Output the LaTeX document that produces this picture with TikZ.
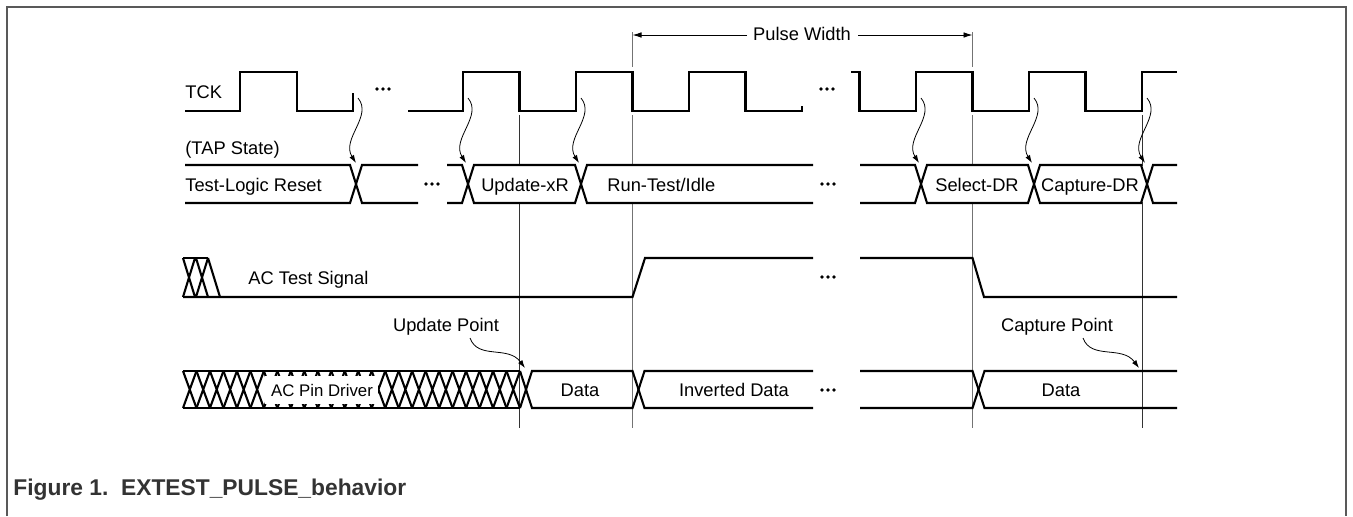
\documentclass[tikz,border=0pt]{standalone}
\usepackage{fontspec}
\setmainfont{Liberation Sans}
\usetikzlibrary{arrows.meta}
\begin{document}
\begin{tikzpicture}[x=0.5pt,y=-0.5pt,
  sig/.style={line width=1.05pt, line join=miter, line cap=butt},
  vlineA/.style={line width=0.45pt, black!80},
  vlineB/.style={line width=0.45pt, black!55},
  curv/.style={line width=0.4pt, -{Latex[length=4pt,width=2.6pt]}},
  pwarrow/.style={line width=0.45pt, -{Latex[length=4.5pt,width=2.8pt]}},
  lbl/.style={inner sep=0pt, font=\fontsize{9.15}{11}\selectfont},
  small/.style={inner sep=0pt, font=\fontsize{8.4}{10}\selectfont},
  ell/.pic={\fill (-6,0) circle (0.95pt) (0,0) circle (0.95pt) (6,0) circle (0.95pt);}]
\useasboundingbox (0,0) rectangle (1353,516);
% frame
\draw[line width=1.3pt, black!65] (7,516) -- (7,7) -- (1346,7) -- (1346,516);
% caption
\node[anchor=base west, inner sep=0pt, text=black!80, font=\fontsize{11.4}{13}\selectfont\bfseries] (cap) at (13,495) {Figure 1.\ \ EXTEST\_PULSE\_behavior};

% vertical marker lines
\draw[vlineA] (519.5,115) -- (519.5,428);
\draw[vlineB] (632.5,32) -- (632.5,67) (632.5,115) -- (632.5,428);
\draw[vlineB] (972.5,32) -- (972.5,67) (972.5,115) -- (972.5,428);
\draw[vlineA] (1142,115) -- (1142,428);
% hide markers inside the state bus
\fill[white] (185,166) rectangle (1177,202);

% pulse width
\node[lbl, anchor=base] (pw) at (802,40) {Pulse Width};
\coordinate (pwa) at (747,35);
\coordinate (pwb) at (858,35);
\coordinate (pwl) at (632.5,35);
\coordinate (pwr) at (972.5,35);
\draw[pwarrow] (pwa) -- (pwl);
\draw[pwarrow] (pwb) -- (pwr);

% TCK
\node[lbl, anchor=base west] (tck) at (185,98) {TCK};
\draw[sig] (185,111) -| (240,72) -| (297,111) -| (353,93);
\draw[sig] (408,111) -| (463,72) -| (519.5,111) -| (576,72) -| (632.5,111) -| (689,72) -| (745.5,111) -| (802,106);
\draw[sig] (851,72) -| (859.5,111) -| (916,72) -| (972.5,111) -| (1029,72) -| (1085.5,111) -| (1142,72) -- (1177,72);
\pic at (383,89) {ell};
\pic at (827,89) {ell};

% TAP state bus
\node[lbl, anchor=base west] (tap) at (185,154) {(TAP State)};
\draw[sig] (185,165) -- (350,165) -- (362,203) -- (418,203);
\draw[sig] (185,203) -- (350,203) -- (362,165) -- (418,165);
\draw[sig] (447,165) -- (462,165) -- (474,203) -- (575,203) -- (587,165) -- (813,165);
\draw[sig] (447,203) -- (462,203) -- (474,165) -- (575,165) -- (587,203) -- (813,203);
\draw[sig] (860,165) -- (915,165) -- (927,203) -- (1028,203) -- (1040,165) -- (1141,165) -- (1153,203) -- (1177,203);
\draw[sig] (860,203) -- (915,203) -- (927,165) -- (1028,165) -- (1040,203) -- (1141,203) -- (1153,165) -- (1177,165);
\pic at (432,184) {ell};
\pic at (828,184) {ell};
\node[lbl, anchor=base west] (s1) at (185,191) {Test-Logic Reset};
\node[lbl, anchor=base] (s2) at (525,191) {Update-xR};
\node[lbl, anchor=base west] (s3) at (607,191) {Run-Test/Idle};
\node[lbl, anchor=base] (s4) at (977,191) {Select-DR};
\node[lbl, anchor=base] (s5) at (1090,191) {Capture-DR};

% clock-to-state arrows
\foreach \e [count=\i] in {353,463,576,916,1029,1142}{
  \coordinate (ck\i) at ({\e+5},98);
  \coordinate (st\i) at ({\e+3},163);
  \draw[curv] (ck\i) .. controls +(15,18) and +(-15,-24) .. (st\i);
}

% AC test signal
\draw[sig] (183,258) -- (208,258);
\draw[sig] (183,258) -- (195,297) (183,297) -- (195,258)
           (196,258) -- (208,297) (196,297) -- (208,258)
           (208,258) -- (220,297);
\draw[sig] (183,297) -- (632.5,297) -- (645,258) -- (813,258);
\draw[sig] (860,258) -- (972.5,258) -- (984,297) -- (1177,297);
\pic at (828,277) {ell};
\node[lbl, anchor=base west] (acts) at (248,284) {AC Test Signal};

% AC pin driver
\draw[sig] (183,371) -- (520,371) (183,408) -- (520,408);
\foreach \k in {0,...,24}{
  \draw[sig] ({183+\k*13.48},371) -- ({183+(\k+1)*13.48},408)
             ({183+\k*13.48},408) -- ({183+(\k+1)*13.48},371);
}
\draw[sig] (520,371) -- (532,408) -- (632.5,408) -- (644.5,371) -- (813,371);
\draw[sig] (520,408) -- (532,371) -- (632.5,371) -- (644.5,408) -- (813,408);
\draw[sig] (860,371) -- (972.5,371) -- (984.5,408) -- (1177,408);
\draw[sig] (860,408) -- (972.5,408) -- (984.5,371) -- (1177,371);
\pic at (828,390) {ell};
\node[fill=white, inner sep=0pt, minimum width=56.5pt, minimum height=14pt] (pinbox) at (321,389.5) {};
\node[small, anchor=base] (pin) at (322,396) {AC Pin Driver};
\node[lbl, anchor=base] (d1) at (580,396) {Data};
\node[lbl, anchor=base] (d2) at (734,396) {Inverted Data};
\node[lbl, anchor=base] (d3) at (1061,396) {Data};

% update / capture points
\node[lbl, anchor=base] (up) at (446,331) {Update Point};
\node[lbl, anchor=base] (cp) at (1057,331) {Capture Point};
\coordinate (upa) at (470,338);
\coordinate (upb) at (525,368);
\coordinate (cpa) at (1083,338);
\coordinate (cpb) at (1139,368);
\draw[curv] (upa) .. controls +(8,22) and +(-17,-23) .. (upb);
\draw[curv] (cpa) .. controls +(8,22) and +(-17,-23) .. (cpb);
\end{tikzpicture}
\end{document}
